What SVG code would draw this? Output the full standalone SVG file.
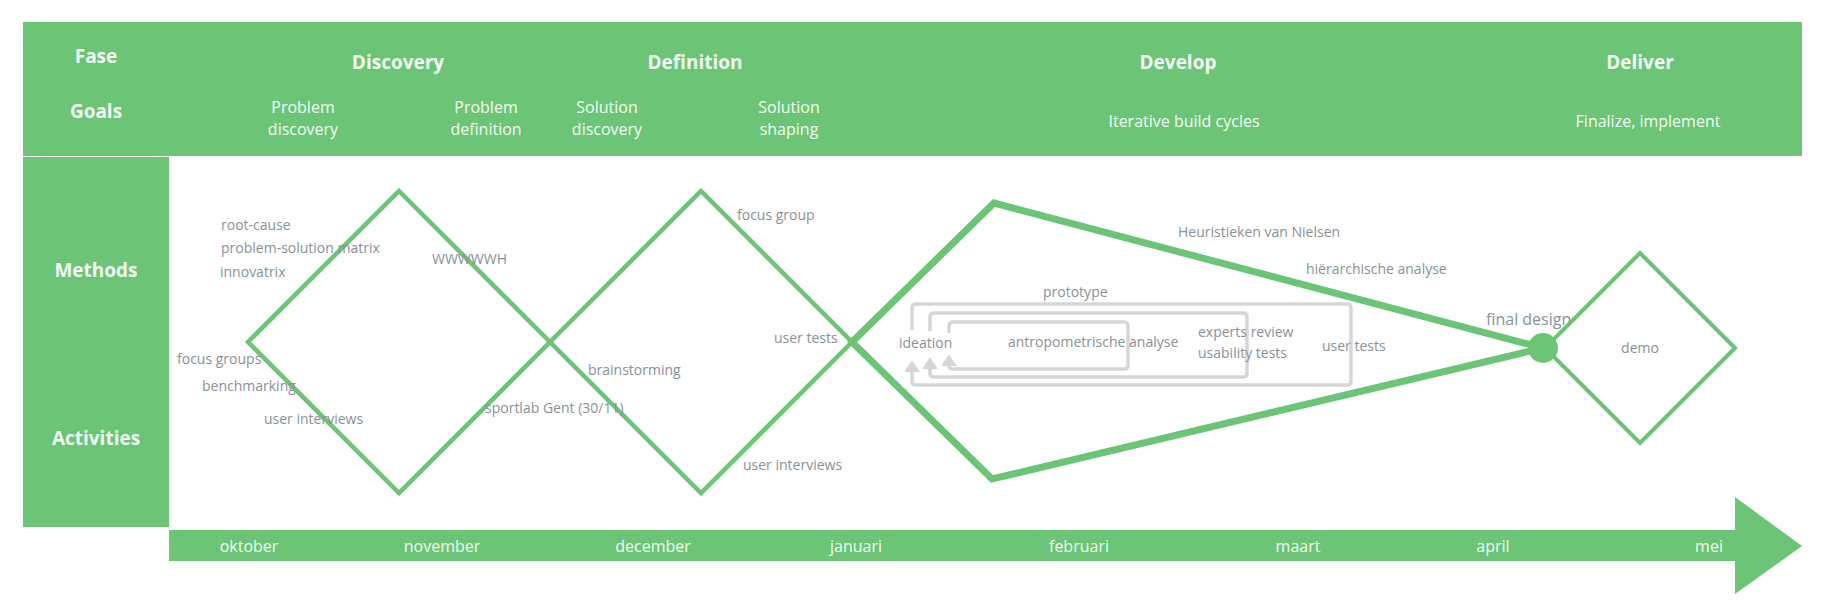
<svg xmlns="http://www.w3.org/2000/svg" width="1822" height="615" viewBox="0 0 1822 615">
<style>
.band{fill:#6cc476}
.hb{font-family:"Open Sans","Noto Sans","Liberation Sans",sans-serif;font-weight:bold;font-size:19px;fill:#f2fff5;text-anchor:middle}
.hr{font-family:"Open Sans","Noto Sans","Liberation Sans",sans-serif;font-size:16px;fill:#f2fff5;text-anchor:middle}
.t{font-family:"Open Sans","Noto Sans","Liberation Sans",sans-serif;font-size:14px;fill:#8a9198}
.dia{fill:none;stroke:#6cc476;stroke-width:4.5;stroke-linejoin:miter;stroke-miterlimit:10}
.loop{fill:none;stroke:#d6d6d6;stroke-width:3.5;marker-end:url(#ah)}
</style>
<defs>
<marker id="ah" markerUnits="userSpaceOnUse" markerWidth="12" markerHeight="16" refX="0" refY="7.5" orient="auto" viewBox="0 0 12 16">
<path d="M0,0 L11,7.5 L0,15 z" fill="#d6d6d6" stroke="#d6d6d6" stroke-width="1" stroke-linejoin="round"/>
</marker>
</defs>
<rect width="1822" height="615" fill="#ffffff"/>
<g id="header">
<rect class="band" x="23" y="22" width="1779" height="134"/>
<rect class="band" x="23" y="157" width="146" height="370"/>
<text class="hb" x="96" y="63">Fase</text>
<text class="hb" x="96" y="118">Goals</text>
<text class="hb" x="96" y="277">Methods</text>
<text class="hb" x="96" y="445">Activities</text>
<text class="hb" x="398" y="69">Discovery</text>
<text class="hb" x="695" y="69">Definition</text>
<text class="hb" x="1178" y="69">Develop</text>
<text class="hb" x="1640" y="69">Deliver</text>
<text class="hr" x="303" y="113">Problem</text>
<text class="hr" x="303" y="135">discovery</text>
<text class="hr" x="486" y="113">Problem</text>
<text class="hr" x="486" y="135">definition</text>
<text class="hr" x="607" y="113">Solution</text>
<text class="hr" x="607" y="135">discovery</text>
<text class="hr" x="789" y="113">Solution</text>
<text class="hr" x="789" y="135">shaping</text>
<text class="hr" x="1184" y="127">Iterative build cycles</text>
<text class="hr" x="1648" y="127">Finalize, implement</text>
</g>
<g id="timeline">
<path class="band" d="M169,530 H1735 V497 L1802,546 L1735,594 V561 H169 z"/>
<text class="hr" x="249" y="552">oktober</text>
<text class="hr" x="442" y="552">november</text>
<text class="hr" x="653" y="552">december</text>
<text class="hr" x="856" y="552">januari</text>
<text class="hr" x="1079" y="552">februari</text>
<text class="hr" x="1298" y="552">maart</text>
<text class="hr" x="1493" y="552">april</text>
<text class="hr" x="1709" y="552">mei</text>
</g>
<g id="discovery">
<polygon class="dia" points="399,191 550,342 399,493 248,342"/>
</g>
<g id="definition">
<polygon class="dia" points="701,191 852,342 701,493 550,342"/>
</g>
<g id="develop">
<polygon class="dia" style="stroke-width:7" points="852,342 994,203 1543,348 992,479"/>
</g>
<g id="deliver">
<polygon class="dia" style="stroke-width:4" points="1640,253 1735,348 1640,443 1545,348"/>
<text class="t" x="1640" y="353" text-anchor="middle">demo</text>
</g>
<g id="final-design">
<circle cx="1543" cy="348" r="15" fill="#6cc476"/>
<text class="t" style="font-size:16px" x="1486" y="325">final design</text>
</g>
<g id="connectors">
<path class="loop" d="M912,330 V308 Q912,304 916,304 H1347 Q1351,304 1351,308 V381 Q1351,385 1347,385 H916 Q912,385 912,381 V372"/>
<path class="loop" d="M930,331 V317 Q930,313 934,313 H1243 Q1247,313 1247,317 V373 Q1247,377 1243,377 H934 Q930,377 930,373 V369"/>
<path class="loop" d="M949,333 V326 Q949,322 953,322 H1124 Q1128,322 1128,326 V365 Q1128,369 1124,369 H953 Q949,369 949,366"/>
</g>
<g id="labels">
<text class="t" x="221" y="230">root-cause</text>
<text class="t" x="221" y="253">problem-solution matrix</text>
<text class="t" x="220" y="277">innovatrix</text>
<text class="t" x="432" y="264">WWWWWH</text>
<text class="t" x="177" y="364">focus groups</text>
<text class="t" x="202" y="391">benchmarking</text>
<text class="t" x="264" y="424">user interviews</text>
<text class="t" x="485" y="413">sportlab Gent (30/11)</text>
<text class="t" x="588" y="375">brainstorming</text>
<text class="t" x="737" y="220">focus group</text>
<text class="t" x="774" y="343">user tests</text>
<text class="t" x="743" y="470">user interviews</text>
<text class="t" x="899" y="348">ideation</text>
<text class="t" x="1043" y="297">prototype</text>
<text class="t" x="1008" y="347">antropometrische analyse</text>
<text class="t" x="1198" y="337">experts review</text>
<text class="t" x="1198" y="358">usability tests</text>
<text class="t" x="1322" y="351">user tests</text>
<text class="t" x="1178" y="237">Heuristieken van Nielsen</text>
<text class="t" x="1306" y="274">hiërarchische analyse</text>
</g>
</svg>
